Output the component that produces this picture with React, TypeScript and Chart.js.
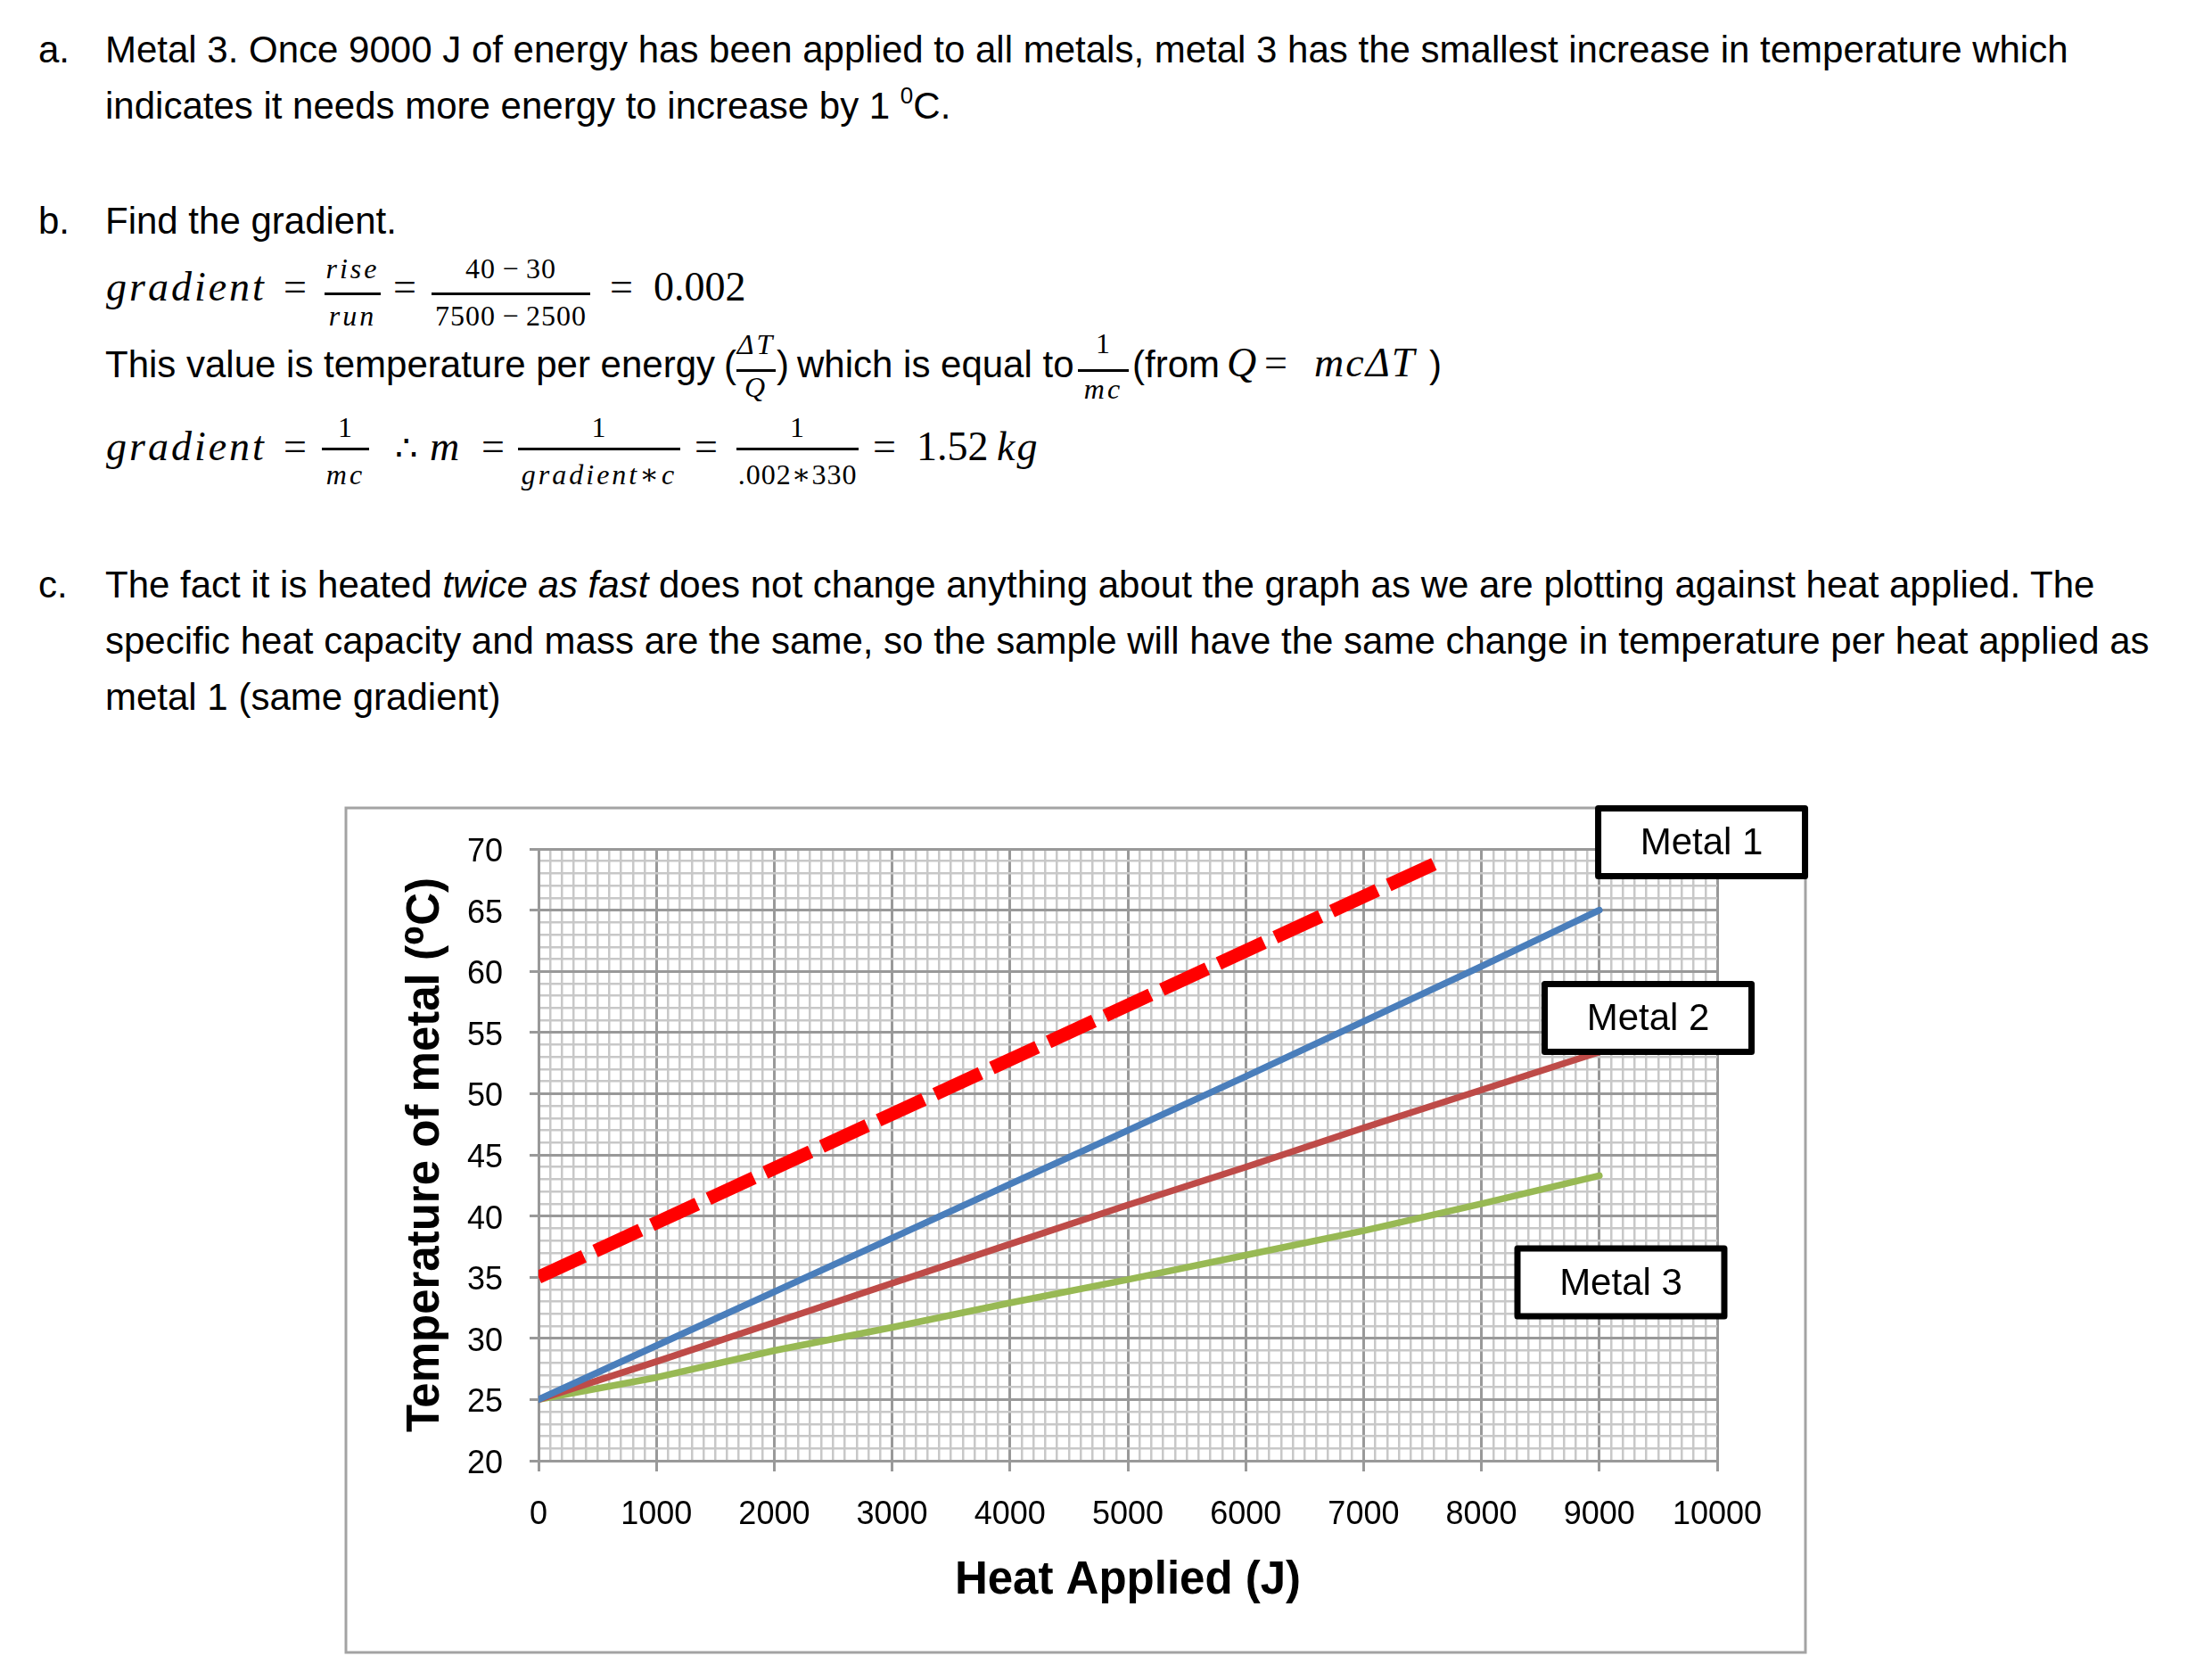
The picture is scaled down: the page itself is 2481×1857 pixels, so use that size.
import React, { useEffect, useRef } from 'react';
import { Chart, registerables } from 'chart.js';

Chart.register(...registerables);

// ---------- chart data ----------
const heatApplied = [0, 1000, 2000, 3000, 4000, 5000, 6000, 7000, 8000, 9000];
const metal1Temp = [25, 29.4, 33.8, 38.2, 42.6, 47.0, 51.4, 55.9, 60.4, 65.0];
const metal2Temp = [25, 28.1, 31.3, 34.5, 37.7, 40.9, 44.0, 47.2, 50.3, 53.4];
const metal3Temp = [25, 26.8, 29.0, 30.9, 32.9, 34.8, 36.8, 38.8, 41.0, 43.3];
const fastHeat = [0, 7650];
const fastTemp = [35, 69.0];
const xTickLabels = [0, 1000, 2000, 3000, 4000, 5000, 6000, 7000, 8000, 9000, 10000];
const yTickLabels = [20, 25, 30, 35, 40, 45, 50, 55, 60, 65, 70];
const seriesNames = ['Metal 1', 'Metal 2', 'Metal 3'];
// annotation anchors (data units)
const nameAnchorHeat = [9868, 9414, 9183];
const nameAnchorTemp = [70.55, 56.19, 34.58];

const SANS = '"Liberation Sans", Arial, "DejaVu Sans", sans-serif';
const SERIF = '"Liberation Serif", "Times New Roman", "DejaVu Serif", serif';
const MAJOR = '#999999';
const MINOR = '#c8c8c8';

const toPts = (xs: number[], ys: number[]) => xs.map((x, i) => ({ x, y: ys[i] }));

const framePlugin = {
  id: 'frame',
  beforeDraw(chart: any) {
    const { ctx, width, height } = chart;
    ctx.save();
    ctx.fillStyle = '#ffffff';
    ctx.fillRect(0, 0, width, height);
    ctx.strokeStyle = '#a3a3a3';
    ctx.lineWidth = 3;
    ctx.strokeRect(4, 6, 1637, 947);
    ctx.restore();
  },
};

const namePlugin = {
  id: 'seriesNames',
  afterDatasetsDraw(chart: any) {
    const { ctx, scales } = chart;
    const xs = scales.x;
    const ys = scales.y;
    ctx.save();
    seriesNames.forEach((name, i) => {
      const cx = xs.getPixelForValue(nameAnchorHeat[i]);
      const cy = ys.getPixelForValue(nameAnchorTemp[i]);
      const w = 232;
      const h = 76;
      ctx.fillStyle = '#ffffff';
      ctx.fillRect(cx - w / 2, cy - h / 2, w, h);
      ctx.lineWidth = 7;
      ctx.lineJoin = 'round';
      ctx.strokeStyle = '#000000';
      ctx.strokeRect(cx - w / 2, cy - h / 2, w, h);
      ctx.fillStyle = '#000000';
      ctx.font = '42px ' + SANS;
      ctx.textAlign = 'center';
      ctx.textBaseline = 'middle';
      ctx.fillText(name, cx, cy + 2);
    });
    ctx.restore();
  },
};

function TempChart() {
  const ref = useRef<HTMLCanvasElement>(null);
  useEffect(() => {
    const canvas = ref.current;
    if (!canvas) return;
    const isMajX = (c: any) => c.tick && Math.round(c.tick.value) % 1000 === 0;
    const isMajY = (c: any) => c.tick && Math.round(c.tick.value) % 5 === 0;
    const chart = new Chart(canvas, {
      type: 'line',
      data: {
        datasets: [
          {
            label: 'Metal 1',
            data: toPts(heatApplied, metal1Temp),
            borderColor: '#4A7EBB',
            borderWidth: 7.5,
            pointRadius: 0,
            borderCapStyle: 'round',
            borderJoinStyle: 'round',
            fill: false,
            tension: 0,
          },
          {
            label: 'Metal 2',
            data: toPts(heatApplied, metal2Temp),
            borderColor: '#BE4B48',
            borderWidth: 7.5,
            pointRadius: 0,
            borderCapStyle: 'round',
            borderJoinStyle: 'round',
            fill: false,
            tension: 0,
          },
          {
            label: 'Metal 3',
            data: toPts(heatApplied, metal3Temp),
            borderColor: '#98B954',
            borderWidth: 7.5,
            pointRadius: 0,
            borderCapStyle: 'round',
            borderJoinStyle: 'round',
            fill: false,
            tension: 0,
          },
          {
            label: 'Heated twice as fast',
            data: toPts(fastHeat, fastTemp),
            borderColor: '#FF0000',
            borderWidth: 15,
            borderDash: [56, 14],
            borderCapStyle: 'butt',
            pointRadius: 0,
            fill: false,
            tension: 0,
          },
        ],
      },
      options: {
        animation: false,
        responsive: false,
        devicePixelRatio: 1,
        events: [],
        layout: { padding: { top: 52, left: 0, right: 108, bottom: 4 } },
        plugins: {
          legend: { display: false },
          tooltip: { enabled: false },
        },
        scales: {
          x: {
            type: 'linear',
            min: 0,
            max: 10000,
            afterFit: (s: any) => {
              s.height = 215;
            },
            ticks: {
              stepSize: 100,
              autoSkip: false,
              maxRotation: 0,
              minRotation: 0,
              padding: 27,
              color: '#000000',
              font: { family: SANS, size: 36 },
              callback: (v: any) => (xTickLabels.includes(Math.round(Number(v))) ? String(Math.round(Number(v))) : ''),
            },
            grid: {
              color: (c: any) => (isMajX(c) ? MAJOR : MINOR),
              lineWidth: (c: any) => (isMajX(c) ? 3 : 2.5),
              tickColor: (c: any) => (isMajX(c) ? MAJOR : 'rgba(0,0,0,0)'),
              tickLength: 12,
              tickWidth: 3,
              drawTicks: true,
            },
            border: { display: true, color: MAJOR, width: 3 },
            title: {
              display: true,
              text: 'Heat Applied (J)',
              color: '#000000',
              font: { family: SANS, size: 51, weight: 'bold' },
              padding: { top: 0, bottom: 49 },
            },
          },
          y: {
            type: 'linear',
            min: 20,
            max: 70,
            afterFit: (s: any) => {
              s.width = 220;
            },
            ticks: {
              stepSize: 1,
              autoSkip: false,
              padding: 30,
              labelOffset: 4,
              color: '#000000',
              font: { family: SANS, size: 36 },
              callback: (v: any) => (yTickLabels.includes(Math.round(Number(v))) ? String(Math.round(Number(v))) : ''),
            },
            grid: {
              color: (c: any) => (isMajY(c) ? MAJOR : MINOR),
              lineWidth: (c: any) => (isMajY(c) ? 3 : 2.5),
              tickColor: (c: any) => (isMajY(c) ? MAJOR : 'rgba(0,0,0,0)'),
              tickLength: 10,
              tickWidth: 3,
              drawTicks: true,
            },
            border: { display: true, color: MAJOR, width: 3 },
            title: {
              display: true,
              text: 'Temperature of metal (⁰C)',
              color: '#000000',
              font: { family: SANS, size: 51, weight: 'bold' },
              padding: { top: 63, bottom: 0 },
            },
          },
        },
      },
      plugins: [framePlugin, namePlugin],
    } as any);
    return () => chart.destroy();
  }, []);
  return (
    <canvas
      ref={ref}
      width={1650}
      height={957}
      style={{ position: 'absolute', left: 384, top: 900, width: 1650, height: 957 }}
    />
  );
}

// ---------- text helpers ----------
type TP = {
  x: number;
  b: number;
  size?: number;
  serif?: boolean;
  italic?: boolean;
  center?: boolean;
  ls?: number;
  children?: any;
};

function T({ x, b, size = 42, serif = false, italic = false, center = false, ls, children }: TP) {
  return (
    <div
      style={{
        position: 'absolute',
        left: x,
        top: b - 0.845 * size,
        fontFamily: serif ? SERIF : SANS,
        fontSize: size,
        lineHeight: `${size}px`,
        fontStyle: italic ? 'italic' : 'normal',
        whiteSpace: 'pre',
        letterSpacing: ls,
        color: '#000',
        transform: center ? 'translateX(-50%)' : undefined,
      }}
    >
      {children}
    </div>
  );
}

function Frac({
  x1,
  x2,
  barY,
  nb,
  db,
  num,
  den,
  numItalic = false,
  denItalic = false,
}: {
  x1: number;
  x2: number;
  barY: number;
  nb: number;
  db: number;
  num: string;
  den: string;
  numItalic?: boolean;
  denItalic?: boolean;
}) {
  const cx = (x1 + x2) / 2;
  return (
    <>
      <T x={cx} b={nb} size={32} serif italic={numItalic} center ls={numItalic ? 3 : 1}>
        {num}
      </T>
      <div style={{ position: 'absolute', left: x1, top: barY - 1, width: x2 - x1, height: 2.5, background: '#000' }} />
      <T x={cx} b={db} size={32} serif italic={denItalic} center ls={denItalic ? 3 : 1}>
        {den}
      </T>
    </>
  );
}

export default function App() {
  return (
    <div style={{ position: 'absolute', left: 0, top: 0, width: 2481, height: 1857, background: '#fff', overflow: 'hidden' }}>
      {/* a. */}
      <T x={43} b={70}>a.</T>
      <T x={118} b={70}>
        Metal 3. Once 9000 J of energy has been applied to all metals, metal 3 has the smallest increase in temperature which
      </T>
      <T x={118} b={133}>
        {'indicates it needs more energy to increase by 1 '}
        <span style={{ fontSize: 26, position: 'relative', top: -17 }}>0</span>
        {'C.'}
      </T>

      {/* b. */}
      <T x={43} b={262}>b.</T>
      <T x={118} b={262}>Find the gradient.</T>

      {/* gradient = rise/run = (40-30)/(7500-2500) = 0.002 */}
      <T x={119} b={338} size={46} serif italic ls={3}>gradient</T>
      <T x={318} b={338} size={46} serif>=</T>
      <Frac x1={364} x2={427} barY={329} nb={312} db={365} num="rise" den="run" numItalic denItalic />
      <T x={441} b={338} size={46} serif>=</T>
      <Frac x1={484} x2={662} barY={329} nb={312} db={365} num={'40\u2009\u2212\u200930'} den={'7500\u2009\u2212\u20092500'} />
      <T x={684} b={338} size={46} serif>{'=  0.002'}</T>

      {/* This value is ... */}
      <T x={118} b={423}>This value is temperature per energy</T>
      <T x={812} b={423}>(</T>
      <Frac x1={826} x2={870} barY={415} nb={397} db={445} num={'\u0394T'} den="Q" numItalic denItalic />
      <T x={871} b={423}>)</T>
      <T x={894} b={423}>which is equal to</T>
      <Frac x1={1209} x2={1266} barY={415} nb={396} db={447} num="1" den="mc" denItalic />
      <T x={1270} b={423}>(from</T>
      <T x={1376} b={423} size={46} serif italic>Q</T>
      <T x={1418} b={423} size={46} serif>=</T>
      <T x={1474} b={423} size={46} serif italic ls={2}>{'mc\u0394T'}</T>
      <T x={1603} b={423}>)</T>

      {/* gradient = 1/mc ... */}
      <T x={119} b={517} size={46} serif italic ls={3}>gradient</T>
      <T x={318} b={517} size={46} serif>=</T>
      <Frac x1={361} x2={414} barY={503} nb={490} db={543} num="1" den="mc" denItalic />
      <T x={443} b={517} size={40} serif>{'\u2234'}</T>
      <T x={482} b={517} size={46} serif italic>m</T>
      <T x={540} b={517} size={46} serif>=</T>
      <Frac x1={581} x2={763} barY={503} nb={490} db={543} num="1" den={'gradient\u2217c'} denItalic />
      <T x={779} b={517} size={46} serif>=</T>
      <Frac x1={826} x2={963} barY={503} nb={490} db={543} num="1" den={'.002\u2217330'} />
      <T x={979} b={517} size={46} serif>=</T>
      <T x={1028} b={517} size={46} serif>1.52</T>
      <T x={1118} b={517} size={46} serif italic ls={2}>kg</T>

      {/* c. */}
      <T x={43} b={670}>c.</T>
      <T x={118} b={670}>
        {'The fact it is heated '}
        <span style={{ fontStyle: 'italic' }}>twice as fast</span>
        {' does not change anything about the graph as we are plotting against heat applied. The'}
      </T>
      <T x={118} b={733}>
        specific heat capacity and mass are the same, so the sample will have the same change in temperature per heat applied as
      </T>
      <T x={118} b={796}>metal 1 (same gradient)</T>

      <TempChart />
    </div>
  );
}
